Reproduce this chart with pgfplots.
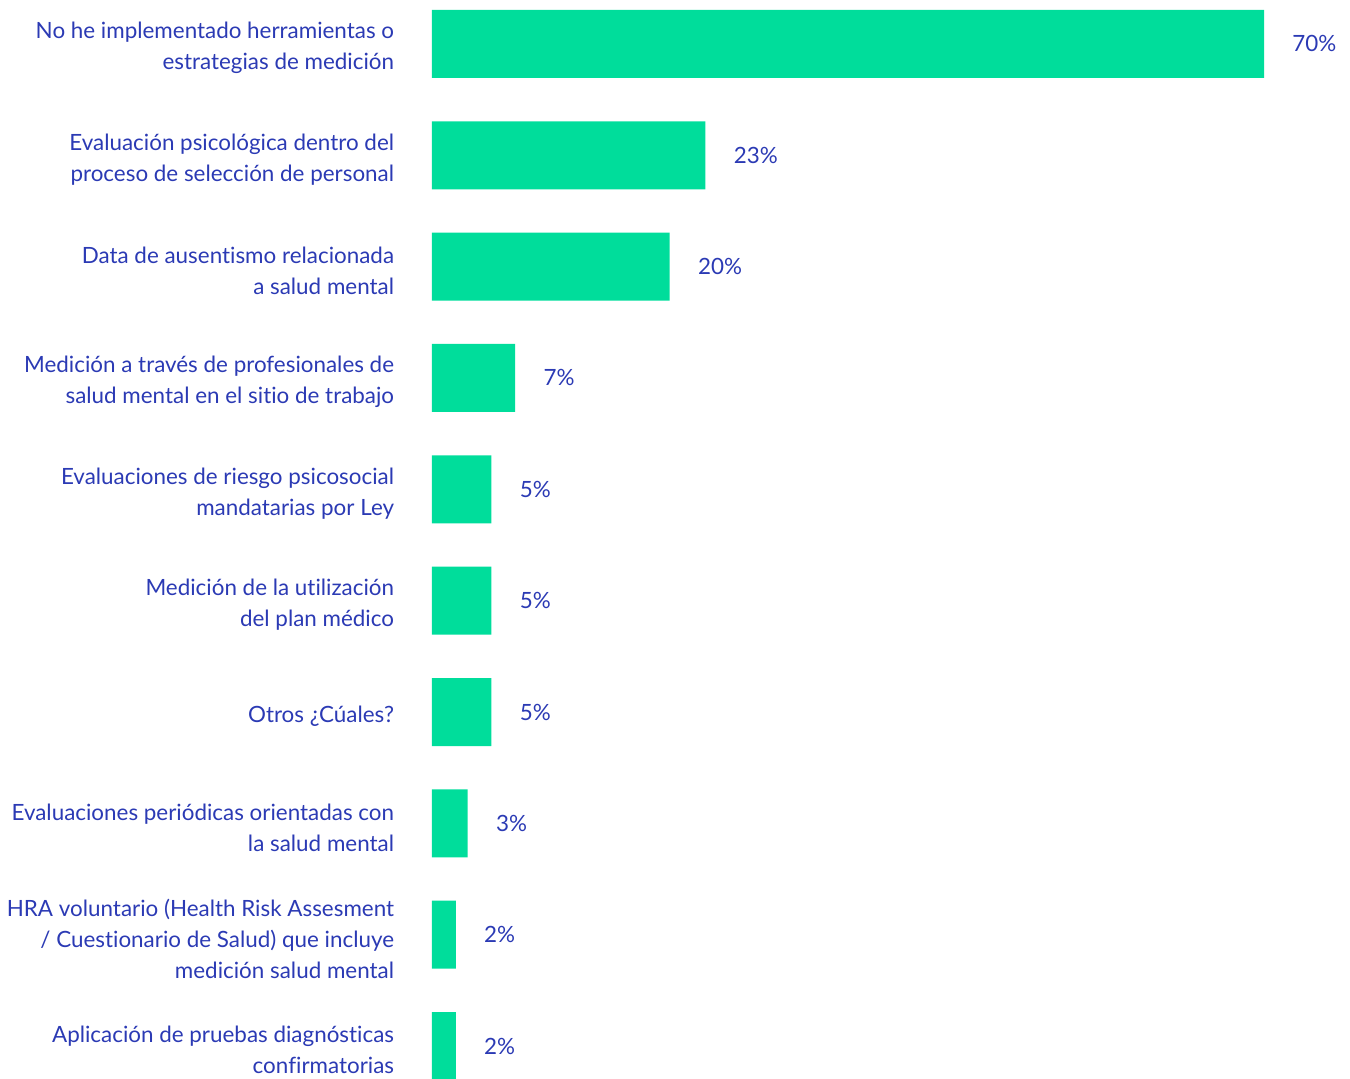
\documentclass[border=0pt]{standalone}
\usepackage{pgfplots}
\pgfplotsset{compat=1.18}
\usepackage{fontspec}
\setmainfont{Lato}[Ligatures=NoCommon]
\definecolor{txt}{HTML}{2B3AB4}
\definecolor{barc}{HTML}{00DD9B}
\begin{document}
\begin{tikzpicture}
\path[use as bounding box] (0,0) rectangle (675pt,539.5pt);
\begin{axis}[
 at={(216pt,0pt)}, anchor=south west,
 scale only axis, width=416pt, height=539.5pt,
 xmin=0, xmax=70, ymin=-0.296, ymax=9.395,
 xbar, bar width=34pt,
 axis line style={draw=none}, tick style={draw=none},
 xtick=\empty,
 ytick={0,...,9},
 /pgf/number format/assume math mode=true,
 yticklabels={
  {Aplicación de pruebas diagnósticas\\confirmatorias},
  {HRA voluntario (Health Risk Assesment\\/ Cuestionario de Salud) que incluye\\medición salud mental},
  {Evaluaciones periódicas orientadas con\\la salud mental},
  {Otros ¿Cúales?},
  {Medición de la utilización\\del plan médico},
  {Evaluaciones de riesgo psicosocial\\mandatarias por Ley},
  {Medición a través de profesionales de\\salud mental en el sitio de trabajo},
  {Data de ausentismo relacionada\\a salud mental},
  {Evaluación psicológica dentro del\\proceso de selección de personal},
  {No he implementado herramientas o\\estrategias de medición}},
 yticklabel style={align=right, font=\fontsize{11.2}{15.5}\selectfont, text=txt, inner sep=0pt, yshift=-2pt},
 yticklabel shift=14.5pt,
 nodes near coords={\pgfmathprintnumber{\pgfplotspointmeta}\%},
 nodes near coords style={anchor=west, xshift=14pt, inner sep=0pt, font=\fontsize{11.2}{15.5}\selectfont, text=txt},
 point meta=x,
 clip=false,
]
\addplot[fill=barc, draw=none] coordinates {(2,0) (2,1) (3,2) (5,3) (5,4) (5,5) (7,6) (20,7) (23,8) (70,9)};
\end{axis}
\end{tikzpicture}
\end{document}
